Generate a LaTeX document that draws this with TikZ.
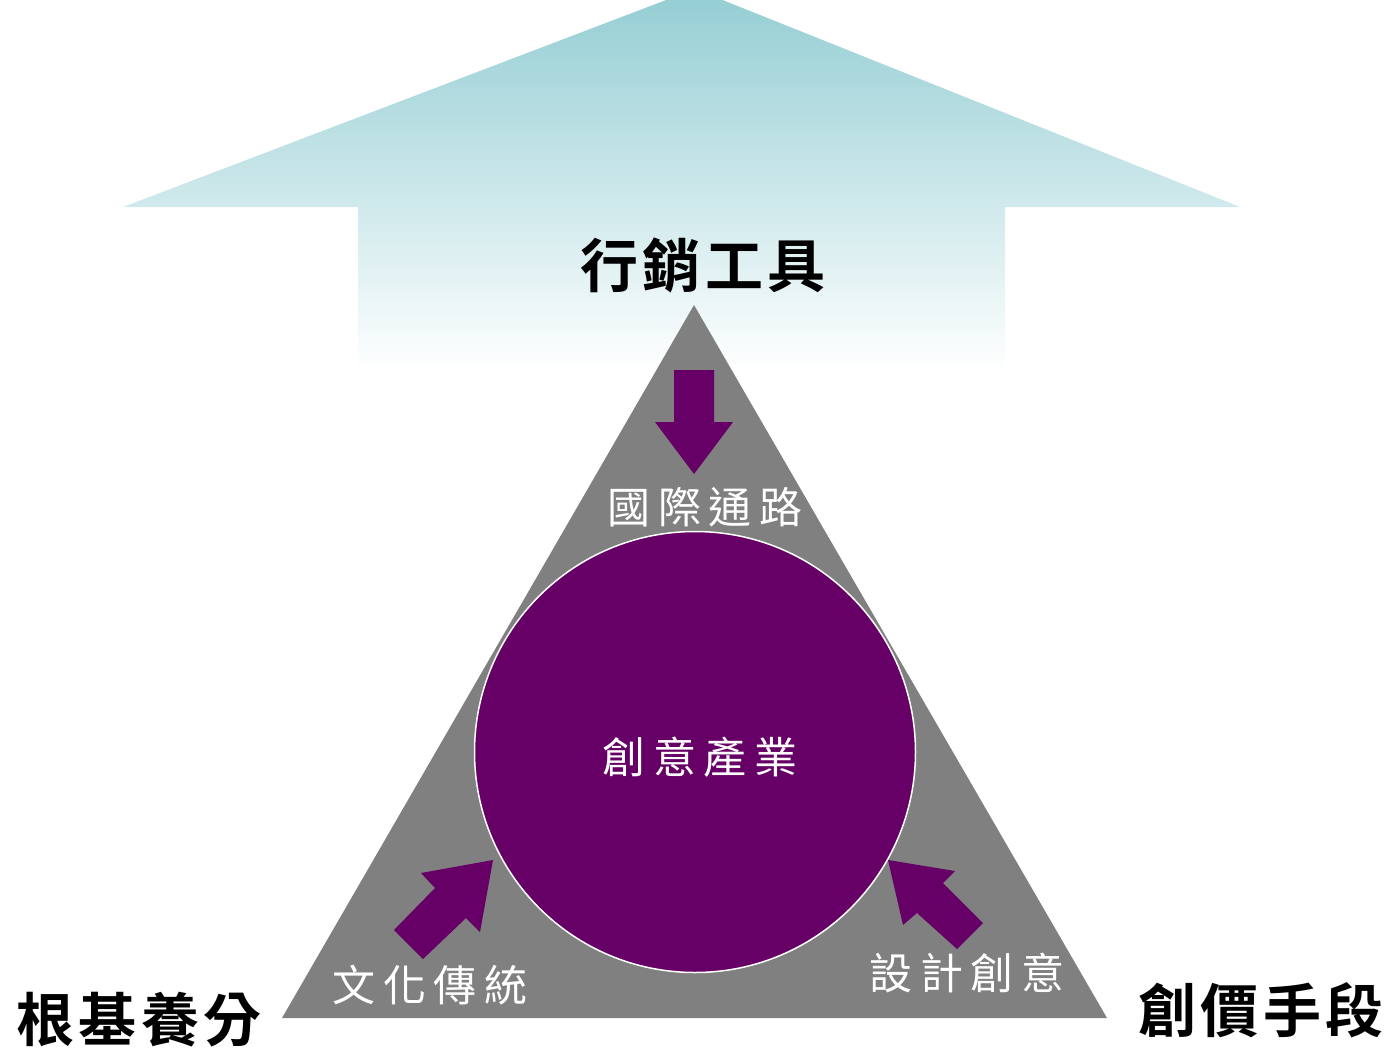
\documentclass[tikz,border=0pt]{standalone}
\usepackage{fontspec}
\newfontfamily\cjkb[LetterSpace=8]{Noto Sans CJK TC Bold}
\newfontfamily\cjkl[LetterSpace=18]{Noto Sans CJK TC}
\definecolor{teal1}{HTML}{93CDD3}
\definecolor{grayT}{HTML}{808080}
\definecolor{purp}{HTML}{660066}
\tikzset{
  blk/.style={font=\cjkb\fontsize{58}{62}\selectfont, text=black, inner sep=0pt},
  wht/.style={font=\cjkl\fontsize{43}{48}\selectfont, text=white, inner sep=0pt},
  parrow/.style={fill=purp, draw=none}
}
\begin{document}
\begin{tikzpicture}[x=1pt,y=-1pt]
\useasboundingbox (0,0) rectangle (1391,1050);
\clip (0,0) rectangle (1391,1050);
% big up arrow
\shade[top color=teal1, bottom color=white, shading angle=0]
  (695,-11) -- (1240,207) -- (1005,207) -- (1005,372) -- (358,372) -- (358,207) -- (123,207) -- cycle;
% triangle
\fill[grayT] (694,305) -- (1107,1018) -- (282,1018) -- cycle;
% circle
\node[circle, fill=purp, draw=white, line width=1.5pt, minimum size=441pt, inner sep=0pt] (core) at (695,752) {};
% down arrow
\fill[parrow] (674,370) -- (714,370) -- (714,422) -- (733,422) -- (694,474) -- (655,422) -- (674,422) -- cycle;
% lower-left arrow
\fill[parrow] (493,860) -- (480,932) -- (466,918) -- (423,959) -- (394,930) -- (435,888) -- (421,873) -- cycle;
% lower-right arrow
\fill[parrow] (888,860) -- (955,871) -- (943,883) -- (983,923) -- (957,949) -- (917,913) -- (903,925) -- cycle;
% labels
\node[blk] (top) at (703,265) {行銷工具};
\node[blk] (left) at (139,1020) {根基養分};
\node[blk] (right) at (1261,1010) {創價手段};
\node[wht] (intl) at (705,507) {國際通路};
\node[wht] (ci) at (700,757) {創意產業};
\node[wht] (cult) at (430,985) {文化傳統};
\node[wht] (des) at (967,973) {設計創意};
\end{tikzpicture}
\end{document}
